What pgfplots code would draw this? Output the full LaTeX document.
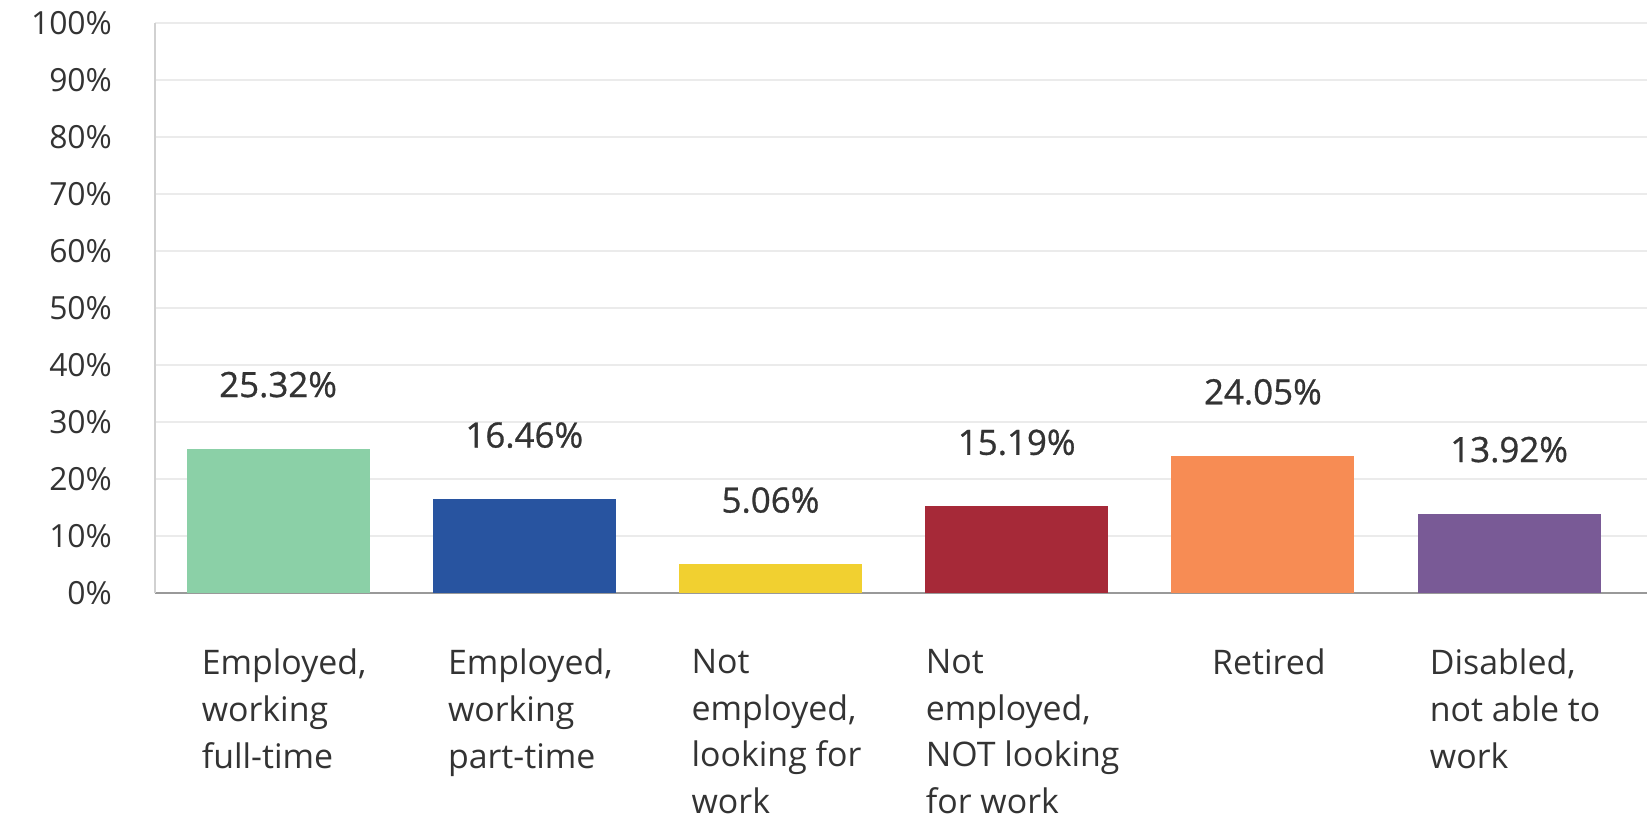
\documentclass[border=0pt]{standalone}
\usepackage{pgfplots}
\pgfplotsset{compat=1.18}
\usepackage{fontspec}
\setmainfont{Open Sans}
\newfontfamily\valfont[FakeBold=0.8]{Open Sans}
\definecolor{txt}{RGB}{51,51,51}
\definecolor{c1}{RGB}{139,208,167}
\definecolor{c2}{RGB}{40,84,160}
\definecolor{c3}{RGB}{241,208,48}
\definecolor{c4}{RGB}{166,41,56}
\definecolor{c5}{RGB}{247,140,84}
\definecolor{c6}{RGB}{121,90,150}
\begin{document}
\begin{tikzpicture}
\begin{axis}[
  scale only axis,
  width=746bp, height=285bp,
  xmin=-0.5, xmax=5.56,
  ymin=0, ymax=100,
  ytick={0,10,...,100},
  yticklabel={\pgfmathprintnumber{\tick}\%},
  xtick={0,1,2,3,4,5},
  xticklabels={{Employed,\\working\\full-time},{Employed,\\working\\part-time},{Not\\employed,\\looking for\\work},{Not\\employed,\\NOT looking\\for work},{Retired},{Disabled,\\not able to\\work}},
  major tick length=0pt,
  axis x line*=bottom,
  axis y line*=left,
  x axis line style={draw=black!40, line width=1pt, -},
  y axis line style={draw=black!18, line width=1pt, -},
  ymajorgrids,
  grid style={draw=black!8, line width=0.8pt},
  /pgf/number format/assume math mode=true,
  yticklabel style={font=\fontsize{16}{23.5}\selectfont, text=txt, xshift=-18bp},
  xticklabel style={font=\fontsize{17}{23.5}\selectfont, text=txt, align=left, yshift=-24.5bp, xshift=3bp},
  ybar, bar width=91.5bp,
  bar shift=0pt,
  nodes near coords={\pgfmathprintnumber[fixed,precision=2,fixed zerofill]{\pgfplotspointmeta}\%},
  nodes near coords style={font=\valfont\fontsize{17.5}{20}\selectfont, text=txt, anchor=center, yshift=32bp},
]
\addplot[fill=c1, draw=none] coordinates {(0,25.32)};
\addplot[fill=c2, draw=none] coordinates {(1,16.46)};
\addplot[fill=c3, draw=none] coordinates {(2,5.06)};
\addplot[fill=c4, draw=none] coordinates {(3,15.19)};
\addplot[fill=c5, draw=none] coordinates {(4,24.05)};
\addplot[fill=c6, draw=none] coordinates {(5,13.92)};
\end{axis}
\pgfresetboundingbox
\path[use as bounding box] ([xshift=-77.5bp, yshift=-113.5bp]current axis.south west) rectangle ([yshift=11.5bp]current axis.north east);
\end{tikzpicture}
\end{document}
